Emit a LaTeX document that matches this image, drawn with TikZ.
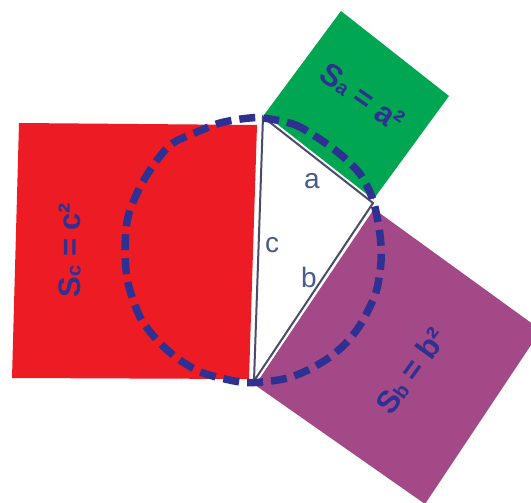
\documentclass[tikz,border=0pt]{standalone}
\usepackage{fontspec}
\setmainfont{Liberation Sans}
\definecolor{sqred}{RGB}{237,28,36}
\definecolor{sqgreen}{RGB}{0,166,81}
\definecolor{sqpurple}{RGB}{163,73,135}
\definecolor{inkblue}{RGB}{46,49,146}
\definecolor{triline}{RGB}{75,75,107}
\definecolor{lblblue}{RGB}{72,92,140}
\newcommand{\subsmall}[1]{{\fontsize{20}{20}\selectfont #1}}
\begin{document}
\begin{tikzpicture}[x=1pt,y=-1pt,
  sqtext/.style={text=inkblue,font=\fontsize{31}{31}\selectfont\bfseries,inner sep=0pt},
  lbl/.style={text=lblblue,font=\fontsize{28}{28}\selectfont,inner sep=0pt},
  triedge/.style={draw=triline,line width=2pt,line join=miter},
  trigap/.style={draw=white,line width=6pt,line join=miter},
  circdash/.style={draw=inkblue,line width=7.5pt,dash pattern=on 16pt off 8pt}]
\useasboundingbox (0,0) rectangle (531,503);
\clip (0,0) rectangle (531,503);
% squares
\fill[sqred] (19,123) -- (257,125) -- (249,379) -- (12,378) -- cycle;
\fill[sqgreen] (264,115) -- (341,11) -- (449,96) -- (373,200) -- cycle;
\fill[sqpurple] (255,385) -- (374,209) -- (541,330) -- (425,504) -- cycle;
% triangle
\coordinate (A) at (263,117);
\coordinate (B) at (373,203);
\coordinate (C) at (254,381);
\path[trigap,fill=white] (A) -- (B) -- (C) -- cycle;
\path[triedge] (A) -- (B) -- (C) -- cycle;
% side labels
\node[lbl] (la) at (312,181) {a};
\node[lbl] (lb) at (309,277) {b};
\node[lbl] (lc) at (272,245) {c};
% area labels
\node[sqtext,rotate=-35] (ta) at (362,97) {S\subsmall{a} = a²};
\node[sqtext,rotate=54] (tb) at (411,371) {S\subsmall{b} = b²};
\node[sqtext,rotate=90] (tc) at (70,250) {S\subsmall{c} = c²};
% dashed circle
\draw[circdash] plot[smooth cycle] coordinates {
 (263,118) (293,124) (315,136) (340,154) (360,174) (373,200) (380,235)
 (381,262) (376,292) (362,322) (347,342) (330,357) (310,369) (288,378)
 (262,382) (240,382) (203,373) (177,358) (157,340) (140,317) (128,283)
 (125,250) (128,217) (140,187) (157,160) (173,143) (197,132) (220,123)
 (245,118.5)};
\end{tikzpicture}
\end{document}
